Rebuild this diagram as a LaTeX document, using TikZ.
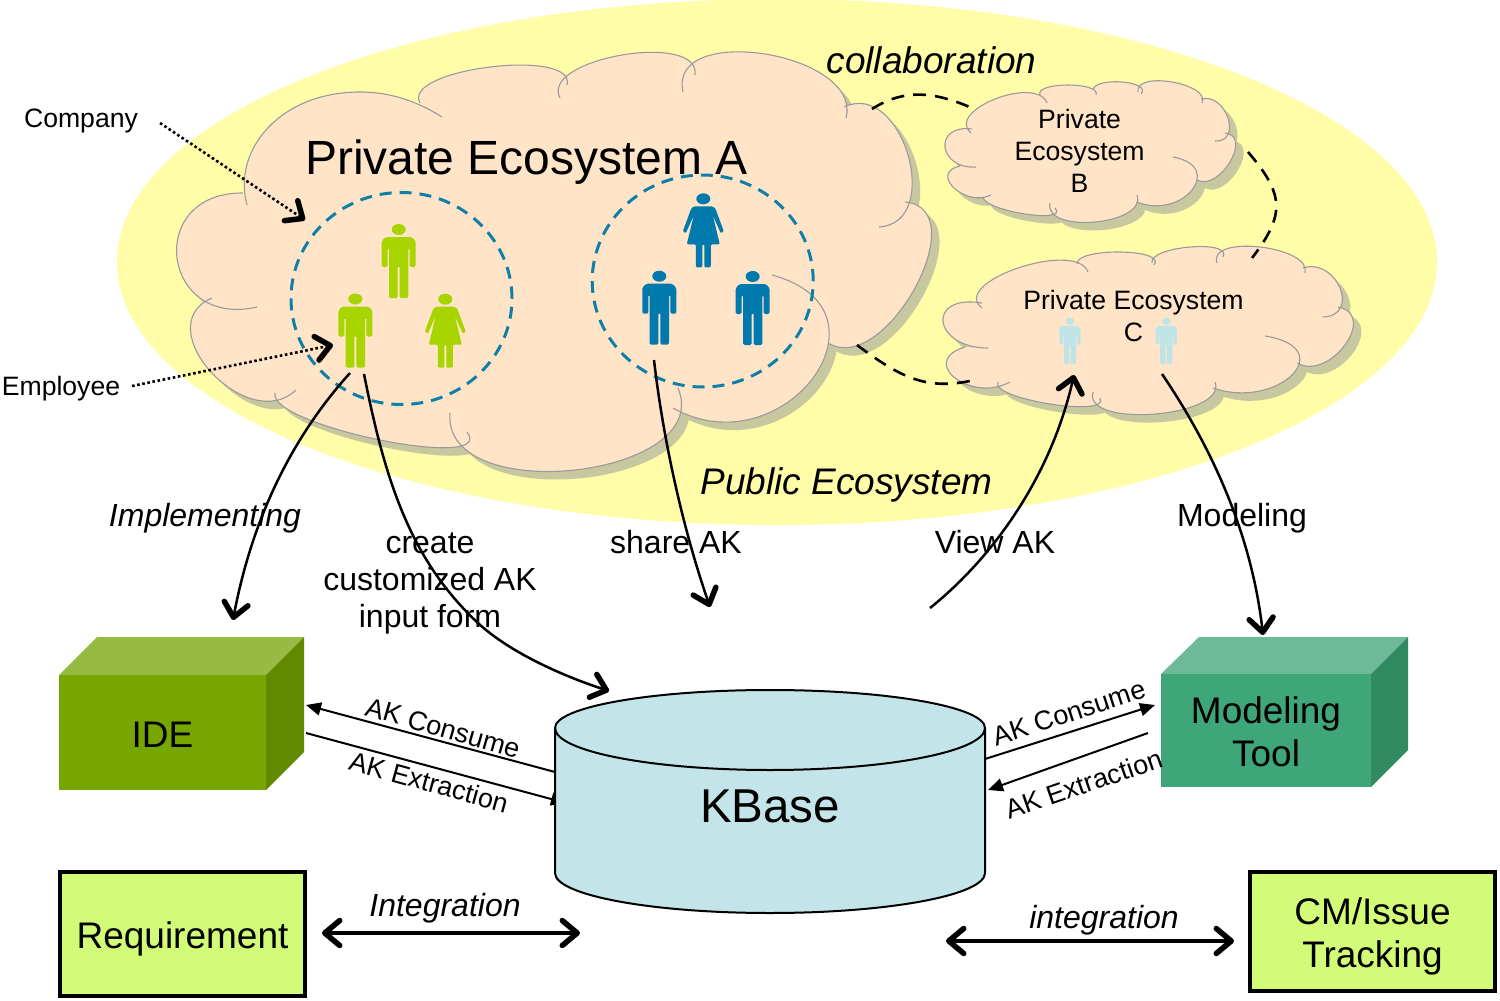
\documentclass[tikz,border=0pt]{standalone}
\usepackage{fontspec}
\setmainfont{Liberation Sans}
\usetikzlibrary{arrows.meta,shapes.geometric}
\definecolor{ellcol}{HTML}{FFFDA8}
\definecolor{cloudcol}{HTML}{FFE4C8}
\definecolor{shadcol}{HTML}{C8C8A0}
\definecolor{cloudedge}{HTML}{9A9A9A}
\definecolor{ringcol}{HTML}{0F7FA8}
\definecolor{mangreen}{HTML}{A8D400}
\definecolor{manblue}{HTML}{0079AD}
\definecolor{manlight}{HTML}{BFE4E8}
\definecolor{idefront}{HTML}{78A600}
\definecolor{idetop}{HTML}{97BA42}
\definecolor{ideside}{HTML}{628A00}
\definecolor{modfront}{HTML}{3FA67A}
\definecolor{modtop}{HTML}{6EBA98}
\definecolor{modside}{HTML}{308A62}
\definecolor{limecol}{HTML}{D2FC78}
\definecolor{kbcol}{HTML}{C3E4E8}
\newcommand\fs[2]{\fontsize{#1}{#2}\selectfont}
\tikzset{
  txt/.style={inner sep=0pt,align=center,text=black},
  lab/.style={txt,font=\fs{32}{37}},
  ilab/.style={txt,font=\fs{32}{37}\itshape},
  ibig/.style={txt,font=\fs{37}{43}\itshape},
  small/.style={txt,font=\fs{26.6}{32}},
  huge/.style={txt,font=\fs{48}{56}},
  rlab/.style={txt,font=\fs{27}{32}},
  barb/.style={-{Straight Barb[length=14pt,width=24pt,line width=5.5pt,round]}},
  conn/.style={line width=2.5pt,barb},
  dotconn/.style={line width=2.6pt,dash pattern=on 2.6pt off 2.6pt,barb},
  collab/.style={line width=2.6pt,dash pattern=on 13pt off 9pt},
  flow/.style={line width=2pt,-{Triangle[length=15pt,width=13pt]}},
  biarrow/.style={line width=3.6pt,{Straight Barb[length=15pt,width=25pt,line width=5.5pt,round]}-{Straight Barb[length=15pt,width=25pt,line width=5.5pt,round]}},
  ring/.style={draw=ringcol,line width=3pt,dash pattern=on 12pt off 8pt,ellipse,minimum width=221pt,minimum height=212pt,inner sep=0pt},
  cloudline/.style={draw=cloudedge,line width=1.1pt},
  limebox/.style={draw=black,line width=4pt,fill=limecol,inner sep=0pt,align=center,font=\fs{37}{43}},
  frontface/.style={inner sep=0pt,align=center,font=\fs{37}{43}},
}
% people
\newcommand\manicon[4]{\begin{scope}[shift={(#1,#2)},scale=#3]
  \fill[#4] (0,5.5) ellipse[x radius=7pt,y radius=5.5pt];
  \fill[#4,rounded corners=1.5pt] (0,13)--(13,13)--(17,17)--(17,43)--(11,43)--(11,24)--(9.7,24)--(9.7,74)--(1,74)--(1,42)--(-1,42)--(-1,74)--(-9.7,74)--(-9.7,24)--(-11,24)--(-11,43)--(-17,43)--(-17,17)--(-13,13)--cycle;
\end{scope}}
\newcommand\womanicon[4]{\begin{scope}[shift={(#1,#2)},scale=#3]
  \fill[#4] (0,5.5) ellipse[x radius=7pt,y radius=5.5pt];
  \fill[#4,rounded corners=1.2pt] (0,13)--(9,13)--(12,15)--(20.5,38)--(17.5,40)--(9.5,22)--(16.5,51)--(7.5,51)--(7.5,74)--(1,74)--(1,51)--(-1,51)--(-1,74)--(-7.5,74)--(-7.5,51)--(-16.5,51)--(-9.5,22)--(-17.5,40)--(-20.5,38)--(-12,15)--(-9,13)--cycle;
\end{scope}}
% one cloud lobe: start, point on the bulge at mid-curve, end
\def\lsp{0.1}
\newcommand\lobe[6]{(#1,#2) .. controls (\fpeval{#1+4/3*(#3-(#1+#5)/2)-\lsp*(#5-#1)},\fpeval{#2+4/3*(#4-(#2+#6)/2)-\lsp*(#6-#2)}) and (\fpeval{#5+4/3*(#3-(#1+#5)/2)+\lsp*(#5-#1)},\fpeval{#6+4/3*(#4-(#2+#6)/2)+\lsp*(#6-#2)}) .. (#5,#6)}
% main cloud lobes
\def\aa{(247,205) .. controls (232,150) and (280,92) .. (360,92) .. controls (393,92) and (420,103) .. (442,117)}
\edef\ab{\lobe{420}{103}{490}{67}{567}{85}}
\edef\ac{\lobe{560}{98}{622}{55}{695}{75}}
\edef\ad{\lobe{683}{92}{765}{54}{846}{118}}
\edef\ae{\lobe{844}{107}{908}{155}{879}{227}}
\edef\af{\lobe{905}{202}{915}{288}{828}{343}}
\edef\ag{\lobe{772}{275}{813}{378}{673}{408}}
\edef\ah{\lobe{678}{388}{575}{470}{450}{413}}
\edef\ai{\lobe{467}{432}{380}{440}{275}{393}}
\edef\aj{\lobe{296}{390}{211}{372}{212}{298}}
\edef\ak{\lobe{257}{307}{177}{258}{243}{193}}
% cloud B lobes
\edef\ba{\lobe{971}{133}{995}{99}{1047}{103}}
\edef\bb{\lobe{1040}{95}{1068}{85}{1096}{95}}
\edef\bc{\lobe{1093}{90}{1122}{82}{1141}{94}}
\edef\bd{\lobe{1138}{92}{1172}{82}{1202}{103}}
\edef\be{\lobe{1201}{99}{1228}{118}{1215}{141}}
\edef\bf{\lobe{1225}{133}{1230}{162}{1197}{180}}
\edef\bg{\lobe{1173}{157}{1192}{190}{1137}{202}}
\edef\bh{\lobe{1137}{195}{1095}{222}{1050}{203}}
\edef\bi{\lobe{1055}{208}{1025}{214}{983}{197}}
\edef\bj{\lobe{991}{195}{954}{188}{960}{166}}
\edef\bk{\lobe{976}{167}{945}{147}{972}{129}}
% cloud C lobes
\edef\ca{\lobe{982}{308}{1018}{268}{1088}{272}}
\edef\cb{\lobe{1077}{264}{1120}{252}{1154}{265}}
\edef\cc{\lobe{1152}{263}{1190}{247}{1223}{257}}
\edef\cd{\lobe{1217}{263}{1260}{247}{1305}{273}}
\edef\ce{\lobe{1303}{268}{1340}{288}{1323}{317}}
\edef\cf{\lobe{1338}{307}{1345}{345}{1297}{363}}
\edef\cg{\lobe{1265}{336}{1292}{375}{1213}{388}}
\edef\ch{\lobe{1215}{382}{1155}{414}{1093}{392}}
\edef\ci{\lobe{1100}{398}{1050}{404}{998}{382}}
\edef\cj{\lobe{1010}{382}{955}{378}{965}{347}}
\edef\ck{\lobe{988}{348}{943}{322}{982}{303}}
\edef\cloudA{\aa -- \ab -- \ac -- \ad -- \ae -- \af -- \ag -- \ah -- \ai -- \aj -- \ak -- cycle}
\edef\cloudB{\ba -- \bb -- \bc -- \bd -- \be -- \bf -- \bg -- \bh -- \bi -- \bj -- \bk -- cycle}
\edef\cloudC{\ca -- \cb -- \cc -- \cd -- \ce -- \cf -- \cg -- \ch -- \ci -- \cj -- \ck -- cycle}
\edef\edgeA{\aa \ab \ac \ad \ae \af \ag \ah \ai \aj \ak}
\edef\edgeB{\ba \bb \bc \bd \be \bf \bg \bh \bi \bj \bk}
\edef\edgeC{\ca \cb \cc \cd \ce \cf \cg \ch \ci \cj \ck}
\begin{document}
\begin{tikzpicture}[x=1pt,y=-1pt]
\useasboundingbox (0,0) rectangle (1500,1001);
\fill[white] (0,0) rectangle (1500,1001);
% public ecosystem
\fill[ellcol] (777,262) ellipse[x radius=660pt,y radius=263pt];
% clouds
\begin{scope}[shift={(8,8)}]
 \fill[shadcol] \cloudA;
 \fill[shadcol] \cloudB;
 \fill[shadcol] \cloudC;
\end{scope}
\fill[cloudcol] \cloudA;
\fill[cloudcol] \cloudB;
\fill[cloudcol] \cloudC;
\draw[cloudline] \edgeA;
\draw[cloudline] \edgeB;
\draw[cloudline] \edgeC;
% collaboration links
\coordinate (abS) at (872,109); \coordinate (abE) at (972,108);
\coordinate (bcS) at (1248,152); \coordinate (bcE) at (1252,258);
\coordinate (acS) at (857,345); \coordinate (acE) at (970,381);
\draw[collab] (abS) .. controls (905,88) and (935,92) .. (abE);
\draw[collab] (bcS) .. controls (1285,195) and (1285,215) .. (bcE);
\draw[collab] (acS) .. controls (900,377) and (925,390) .. (acE);
% rings
\node[ring] (ringA) at (401.5,298.5) {};
\node[ring] (ringB) at (702.7,281) {};
% people
\manicon{398.7}{224}{1}{mangreen}
\manicon{355.3}{293.5}{1}{mangreen}
\womanicon{445.3}{293.7}{1}{mangreen}
\womanicon{703.3}{193.3}{1}{manblue}
\manicon{659.3}{270.7}{1}{manblue}
\manicon{752.7}{271}{1}{manblue}
\manicon{1070}{317.7}{0.63}{manlight}
\manicon{1166.3}{317.7}{0.63}{manlight}
% cloud texts
\node[huge] (peA) at (526.5,162) {Private Ecosystem A};
\node[small] (peB) at (1079.6,151) {Private\\Ecosystem\\B};
\node[small] (peC) at (1133.5,316) {Private Ecosystem\\C};
\node[ibig] (collabT) at (931.5,60) {collaboration};
\node[ibig] (pubT) at (846.5,485) {Public Ecosystem};
\node[small] (company) at (81,121) {Company};
\node[small] (employee) at (61,389) {Employee};
% connector labels
\node[ilab] (implT) at (205,518) {Implementing};
\node[lab] (createT) at (430,583) {create\\customized AK\\input form};
\node[lab] (shareT) at (676,542) {share AK};
\node[lab] (viewT) at (995,542) {View AK};
\node[lab] (modelT) at (1242,518) {Modeling};
% IDE block
\fill[idetop] (59,675) -- (97,637) -- (304,637) -- (266,675) -- cycle;
\fill[ideside] (266,675) -- (304,637) -- (304,752) -- (266,790) -- cycle;
\node[frontface,fill=idefront,minimum width=207pt,minimum height=115pt] (ide) at (162.5,732.5) {\rule{0pt}{30pt}IDE};
% Modeling block
\fill[modtop] (1161,674) -- (1199,637) -- (1408,637) -- (1371,674) -- cycle;
\fill[modside] (1371,674) -- (1408,637) -- (1408,750) -- (1371,787) -- cycle;
\node[frontface,fill=modfront,minimum width=210pt,minimum height=113pt] (modtool) at (1266,730.5) {\rule{0pt}{30pt}Modeling\\Tool};
% boxes
\node[limebox,minimum width=245pt,minimum height=124pt] (req) at (182.5,934) {\rule{0pt}{37pt}Requirement};
\node[limebox,minimum width=245pt,minimum height=119pt] (cmi) at (1372.5,931.5) {\rule{0pt}{36pt}CM/Issue\\Tracking};
% flows on the left and right of the KBase
\coordinate (cL1) at (555,772); \coordinate (iR1) at (306,705);
\coordinate (iR2) at (306,733); \coordinate (cL2) at (566,803);
\coordinate (cR1) at (985,759); \coordinate (mL1) at (1155,705);
\coordinate (mL2) at (1148,733); \coordinate (cR2) at (988,790);
\draw[flow] (cL1) -- (iR1);
\draw[flow] (iR2) -- (cL2);
% KBase
\fill[kbcol,draw=black,line width=2pt] (555,728) -- (555,873) arc[start angle=180,end angle=360,x radius=215pt,y radius=40pt] -- (985,728) arc[start angle=0,end angle=180,x radius=215pt,y radius=38pt] -- cycle;
\draw[line width=2pt] (555,728) arc[start angle=180,end angle=360,x radius=215pt,y radius=42pt];
\node[txt,font=\fs{47.5}{55}] (kbase) at (770,806) {KBase};
\draw[flow] (cR1) -- (mL1);
\draw[flow] (mL2) -- (cR2);
\node[rlab,rotate=-16] (lblA) at (443,728) {AK Consume};
\node[rlab,rotate=-15.5] (lblB) at (429,782) {AK Extraction};
\node[rlab,rotate=18] (lblC) at (1069,713) {AK Consume};
\node[rlab,rotate=19] (lblD) at (1084,784) {AK Extraction};
% integration
\node[ilab] (intL) at (445,908) {Integration};
\node[ilab] (intR) at (1104,920) {integration};
\coordinate (i1) at (322,933); \coordinate (i2) at (580,933);
\coordinate (i3) at (946,941); \coordinate (i4) at (1234,941);
\draw[biarrow] (i1) -- (i2);
\draw[biarrow] (i3) -- (i4);
% pointers
\coordinate (compS) at (160,123); \coordinate (compE) at (305,220);
\coordinate (empS) at (132,386); \coordinate (empE) at (333,345);
\draw[dotconn] (compS) -- (compE);
\draw[dotconn] (empS) -- (empE);
% flows between ecosystems and tools
\coordinate (a1) at (350,373); \coordinate (a2) at (233,620);
\coordinate (b1) at (364,374); \coordinate (b2) at (479,624); \coordinate (b3) at (609,691);
\coordinate (d1) at (654,360); \coordinate (d2) at (710,607);
\coordinate (e1) at (930,608); \coordinate (e2) at (1074,375);
\coordinate (f1) at (1162,374); \coordinate (f2) at (1263,635);
\draw[conn] (a1) .. controls (285,445) and (250,530) .. (a2);
\draw[conn] (b1) .. controls (385,480) and (410,560) .. (b2) .. controls (510,652) and (560,675) .. (b3);
\draw[conn] (d1) .. controls (662,430) and (680,520) .. (d2);
\draw[conn] (e1) .. controls (990,560) and (1050,480) .. (e2);
\draw[conn] (f1) .. controls (1200,430) and (1250,520) .. (f2);
\end{tikzpicture}
\end{document}
